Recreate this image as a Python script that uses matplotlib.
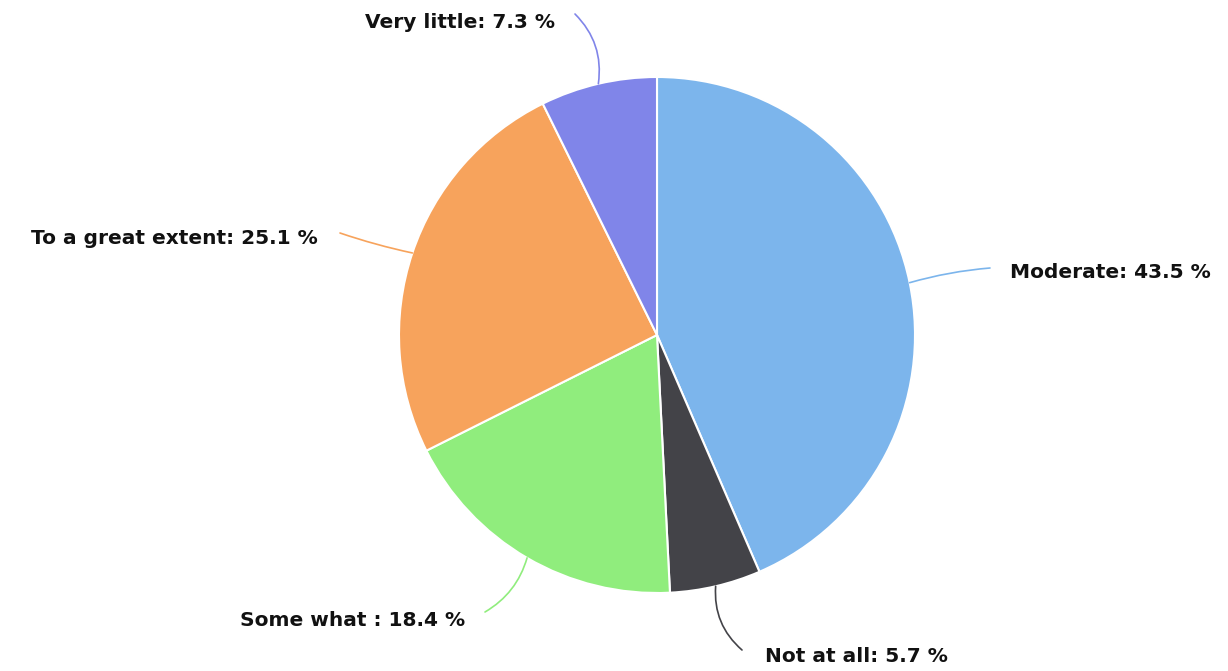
import numpy as np
import matplotlib.pyplot as plt

labels = ["Moderate", "Not at all", "Some what ", "To a great extent", "Very little"]
values = [43.5, 5.7, 18.4, 25.1, 7.3]
colors = ["#7cb5ec", "#434348", "#90ed7d", "#f7a35c", "#8085e9"]

# layout in pixel coords (y measured from top)
W, H = 1228, 671
cx, cy, R = 657, 335, 258
conn_end = [(990, 268), (742, 650), (485, 612), (340, 233), (575, 14)]
text_pos = [(1010, 273, "left"), (765, 657, "left"), (465, 620, "right"),
            (318, 238, "right"), (555, 22, "right")]
rads = [0.05, -0.25, 0.2, 0.03, -0.25]

fig = plt.figure(figsize=(W / 100, H / 100), dpi=100)
ax = fig.add_axes([0, 0, 1, 1])
ax.axis("off")

wedges, _ = ax.pie(values, colors=colors, startangle=90, counterclock=False,
                   center=(cx, H - cy), radius=R,
                   wedgeprops=dict(edgecolor="white", linewidth=1.5))
ax.set_xlim(0, W)
ax.set_ylim(0, H)
ax.set_aspect("equal")

for w, lab, v, col, ce, tp, rad in zip(wedges, labels, values, colors,
                                       conn_end, text_pos, rads):
    ang = np.deg2rad((w.theta1 + w.theta2) / 2)
    ex = cx + R * np.cos(ang)
    ey = (H - cy) + R * np.sin(ang)
    ax.annotate("", xy=(ex, ey), xytext=(ce[0], H - ce[1]),
                arrowprops=dict(arrowstyle="-", color=col, lw=1.2,
                                connectionstyle=f"arc3,rad={rad}",
                                shrinkA=0, shrinkB=0))
    ax.text(tp[0], H - tp[1], f"{lab}: {v} %", ha=tp[2], va="center",
            fontsize=14.5, fontweight="bold", color="#111111")

fig.savefig("out.png", dpi=100)
